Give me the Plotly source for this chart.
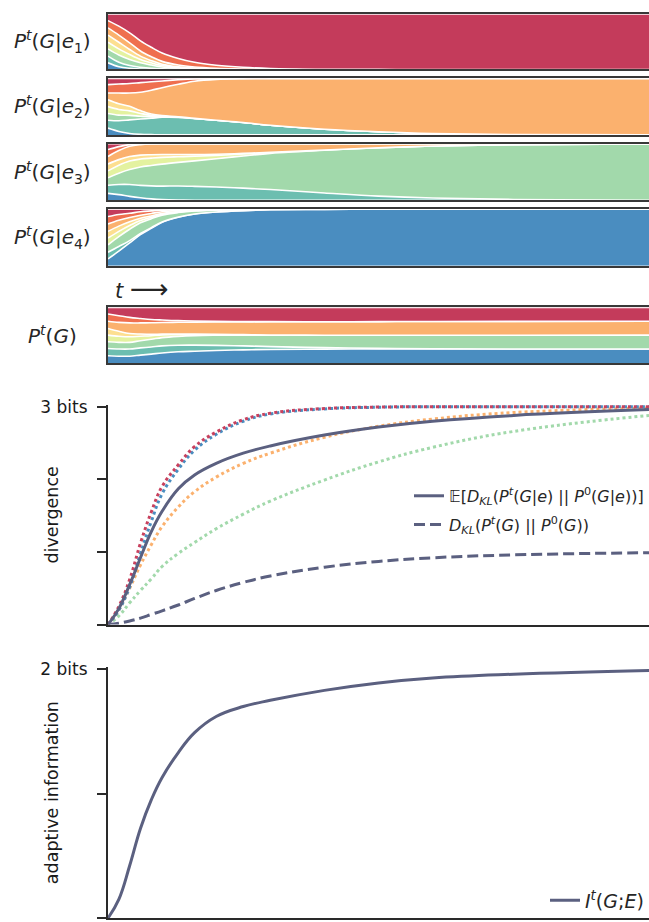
import plotly.graph_objects as go

W, H = 649, 922

# ---------------- data ----------------
T = [0, 2, 4, 6, 8, 10, 13, 16, 20, 25, 30, 40, 50, 60, 75, 100]

GENOTYPES = ["g1", "g2", "g3", "g4", "g5", "g6", "g7", "g8"]
COLORS = ["#C43B5B", "#EF6F4F", "#FBB16E", "#FDDF90",
          "#E4F2A0", "#A2D9AB", "#6CBEB0", "#4A8DC0"]

# P^t(G|e1): rows = genotypes g1..g8 (top to bottom of stack)
P_E1 = [
    [.12, .22, .34, .48, .60, .70, .80, .87, .925, .96, .98, .995, .999, 1, 1, 1],
    [.13, .16, .18, .18, .17, .15, .12, .085, .055, .03, .015, .004, .001, 0, 0, 0],
    [.13, .13, .12, .09, .07, .05, .03, .02, .01, .005, .002, 0, 0, 0, 0, 0],
    [.13, .12, .09, .06, .04, .025, .012, .006, .003, .001, 0, 0, 0, 0, 0, 0],
    [.12, .11, .09, .06, .04, .025, .012, .006, .003, .001, 0, 0, 0, 0, 0, 0],
    [.13, .13, .11, .08, .06, .035, .02, .01, .005, .002, .001, 0, 0, 0, 0, 0],
    [.12, .08, .05, .03, .015, .008, .004, .002, .001, 0, 0, 0, 0, 0, 0, 0],
    [.12, .05, .02, .008, .004, .002, .001, 0, 0, 0, 0, 0, 0, 0, 0, 0],
]
P_E2 = [
    [.11, .10, .09, .075, .06, .045, .025, .01, .003, 0, 0, 0, 0, 0, 0, 0],
    [.15, .16, .17, .17, .15, .12, .08, .04, .015, .005, .001, 0, 0, 0, 0, 0],
    [.12, .19, .235, .325, .42, .494, .573, .657, .722, .775, .829, .90, .945, .976, .995, 1],
    [.12, .10, .08, .05, .025, .01, .004, .001, 0, 0, 0, 0, 0, 0, 0, 0],
    [.12, .10, .08, .05, .025, .01, .004, .001, 0, 0, 0, 0, 0, 0, 0, 0],
    [.12, .10, .08, .05, .025, .01, .004, .001, 0, 0, 0, 0, 0, 0, 0, 0],
    [.14, .19, .24, .27, .29, .31, .31, .29, .26, .22, .17, .10, .055, .024, .005, 0],
    [.12, .06, .025, .01, .004, .001, 0, 0, 0, 0, 0, 0, 0, 0, 0, 0],
]
P_E3 = [
    [.10, .05, .015, .005, 0, 0, 0, 0, 0, 0, 0, 0, 0, 0, 0, 0],
    [.12, .07, .03, .01, .003, 0, 0, 0, 0, 0, 0, 0, 0, 0, 0, 0],
    [.13, .16, .18, .185, .19, .19, .19, .19, .185, .17, .15, .11, .07, .04, .015, .002],
    [.12, .10, .08, .07, .06, .05, .04, .03, .02, .01, .004, 0, 0, 0, 0, 0],
    [.12, .14, .15, .14, .13, .12, .10, .08, .06, .035, .015, .003, 0, 0, 0, 0],
    [.13, .20, .265, .325, .36, .39, .42, .45, .50, .57, .64, .757, .855, .92, .97, .996],
    [.14, .18, .21, .22, .23, .24, .25, .245, .235, .215, .19, .13, .075, .04, .015, .002],
    [.12, .10, .07, .045, .025, .012, .004, .001, 0, 0, 0, 0, 0, 0, 0, 0],
]
P_E4 = [
    [.13, .09, .07, .045, .03, .015, .006, .002, 0, 0, 0, 0, 0, 0, 0, 0],
    [.13, .10, .075, .06, .045, .03, .018, .01, .005, .002, 0, 0, 0, 0, 0, 0],
    [.13, .10, .075, .055, .045, .03, .018, .01, .005, .002, 0, 0, 0, 0, 0, 0],
    [.12, .09, .065, .04, .025, .015, .008, .004, .002, 0, 0, 0, 0, 0, 0, 0],
    [.12, .09, .065, .04, .025, .015, .008, .004, .002, 0, 0, 0, 0, 0, 0, 0],
    [.13, .17, .20, .19, .16, .12, .08, .055, .035, .02, .01, .003, 0, 0, 0, 0],
    [.12, .08, .04, .02, .01, .005, .002, 0, 0, 0, 0, 0, 0, 0, 0, 0],
    [.12, .25, .40, .55, .67, .77, .86, .91, .95, .972, .985, .996, 1, 1, 1, 1],
]
P_G = [
    [.12, .15, .18, .20, .22, .23, .24, .245, .248, .25, .25, .25, .25, .25, .25, .25],
    [.13, .12, .10, .08, .06, .045, .03, .02, .01, .005, .002, 0, 0, 0, 0, 0],
    [.13, .16, .19, .20, .21, .21, .21, .215, .22, .225, .23, .235, .24, .245, .25, .25],
    [.12, .09, .06, .04, .025, .015, .008, .004, .002, 0, 0, 0, 0, 0, 0, 0],
    [.12, .11, .10, .08, .065, .05, .035, .025, .015, .008, .004, .001, 0, 0, 0, 0],
    [.12, .12, .12, .13, .14, .15, .16, .17, .18, .19, .20, .215, .23, .24, .245, .25],
    [.13, .13, .13, .13, .13, .13, .12, .11, .09, .07, .05, .025, .01, .003, 0, 0],
    [.13, .12, .12, .14, .16, .18, .20, .21, .22, .23, .235, .24, .245, .248, .25, .25],
]

# divergences (bits)
DIV_E1 = [0, .25, .62, 1.12, 1.55, 1.9, 2.2, 2.45, 2.65, 2.82, 2.91, 2.975, 2.995, 3, 3, 3]
DIV_E4 = [0, .2, .52, .98, 1.42, 1.8, 2.14, 2.4, 2.62, 2.8, 2.9, 2.97, 2.993, 3, 3, 3]
DIV_E2 = [0, .2, .5, .82, 1.1, 1.35, 1.62, 1.83, 2.03, 2.22, 2.36, 2.58, 2.73, 2.83, 2.92, 2.98]
DIV_E3 = [0, .12, .3, .47, .63, .8, .98, 1.13, 1.32, 1.52, 1.7, 1.99, 2.24, 2.44, 2.66, 2.88]
DIV_MEAN = [0, .22, .55, .92, 1.28, 1.56, 1.87, 2.06, 2.22, 2.36, 2.46, 2.61, 2.72, 2.8, 2.88, 2.96]
DIV_MARG = [0, .02, .05, .09, .14, .19, .27, .36, .47, .58, .67, .79, .87, .92, .96, .99]
INFO = [0, .15, .42, .72, .95, 1.13, 1.33, 1.49, 1.62, 1.7, 1.75, 1.83, 1.89, 1.93, 1.96, 1.99]

DIV_TICKS = [0, 1, 2, 3]
DIV_TICKTEXT = ["", "", "", "3 bits"]
INFO_TICKS = [0, 1, 2]
INFO_TICKTEXT = ["", "", "2 bits"]

PANEL_LABELS = [
    "<i>P</i><sup><i>t</i></sup>(<i>G</i>|<i>e</i><sub>1</sub>)",
    "<i>P</i><sup><i>t</i></sup>(<i>G</i>|<i>e</i><sub>2</sub>)",
    "<i>P</i><sup><i>t</i></sup>(<i>G</i>|<i>e</i><sub>3</sub>)",
    "<i>P</i><sup><i>t</i></sup>(<i>G</i>|<i>e</i><sub>4</sub>)",
    "<i>P</i><sup><i>t</i></sup>(<i>G</i>)",
]
LEG_MEAN = ("\U0001D53C[<i>D</i><sub><i>KL</i></sub>(<i>P</i><sup><i>t</i></sup>(<i>G</i>|<i>e</i>) || "
            "<i>P</i><sup>0</sup>(<i>G</i>|<i>e</i>))]")
LEG_MARG = ("<i>D</i><sub><i>KL</i></sub>(<i>P</i><sup><i>t</i></sup>(<i>G</i>) || "
            "<i>P</i><sup>0</sup>(<i>G</i>))")
LEG_INFO = "<i>I</i><sup><i>t</i></sup>(<i>G</i>;<i>E</i>)"
TIME_LABEL = "<i>t</i> <span style='font-size:27px'>\u27F6</span>"

SLATE = "#5B6080"
DARK = "#2a2a2a"
MATHFONT = "DejaVu Sans"

# ---------------- layout geometry (pixels) ----------------
def dom(top, bottom):
    return [1 - bottom / H, 1 - top / H]

PANEL_PX = [(6, 62), (71, 128), (137, 194), (203, 260), (302, 358)]
DIV_PX = (400, 622)
INFO_PX = (664.5, 918)
X_DOM = [108 / W, 1.0]

fig = go.Figure()

panels = [P_E1, P_E2, P_E3, P_E4, P_G]
for i, pdata in enumerate(panels):
    ax = i + 1
    for k in reversed(range(8)):
        fig.add_trace(go.Scatter(
            x=T, y=pdata[k], name=GENOTYPES[k],
            stackgroup=f"s{ax}", groupnorm="fraction",
            mode="lines",
            line=dict(color="white", width=1.6, shape="spline", smoothing=1.0),
            fillcolor=COLORS[k],
            xaxis=f"x{ax}", yaxis=f"y{ax}",
            showlegend=False, hoverinfo="skip",
        ))

# divergence panel
for vals, col in [(DIV_E3, "#A2D9AB"), (DIV_E2, "#FBB16E"), (DIV_E4, "#4A8DC0"), (DIV_E1, "#C8415E")]:
    fig.add_trace(go.Scatter(
        x=T, y=vals, mode="lines",
        line=dict(color=col, width=3, dash="dot", shape="spline", smoothing=1.2),
        xaxis="x6", yaxis="y6", showlegend=False, hoverinfo="skip"))
fig.add_trace(go.Scatter(
    x=T, y=DIV_MEAN, mode="lines", name=LEG_MEAN,
    line=dict(color=SLATE, width=3, shape="spline", smoothing=1.2),
    xaxis="x6", yaxis="y6", legend="legend", legendgroup="a"))
fig.add_trace(go.Scatter(
    x=T, y=DIV_MARG, mode="lines", name=LEG_MARG,
    line=dict(color=SLATE, width=3, dash="11px,5px", shape="spline", smoothing=1.2),
    xaxis="x6", yaxis="y6", legend="legend", legendgroup="b"))

# adaptive information panel
fig.add_trace(go.Scatter(
    x=T, y=INFO, mode="lines", name=LEG_INFO,
    line=dict(color=SLATE, width=3, shape="spline", smoothing=1.2),
    xaxis="x7", yaxis="y7", legend="legend2"))

layout = dict(
    width=W, height=H,
    margin=dict(l=0, r=0, t=0, b=0),
    paper_bgcolor="white", plot_bgcolor="white",
    showlegend=True,
    font=dict(family=MATHFONT, color="#262626"),
)

for i, (top, bot) in enumerate(PANEL_PX):
    ax = i + 1
    layout[f"xaxis{ax}"] = dict(domain=X_DOM, range=[0, 100], anchor=f"y{ax}",
                               showline=True, mirror=True, linecolor="#383838", linewidth=2,
                               showticklabels=False, ticks="", showgrid=False, zeroline=False)
    layout[f"yaxis{ax}"] = dict(domain=dom(top, bot), range=[0, 1], anchor=f"x{ax}",
                               showline=True, mirror=False, linecolor="#383838", linewidth=2,
                               showticklabels=False, ticks="", showgrid=False, zeroline=False)

layout["xaxis6"] = dict(domain=X_DOM, range=[0, 100], anchor="y6",
                        showline=True, linecolor=DARK, linewidth=2,
                        showticklabels=False, ticks="", showgrid=False, zeroline=False)
layout["yaxis6"] = dict(domain=dom(*DIV_PX), range=[0, 3.03], anchor="x6",
                        showline=True, linecolor=DARK, linewidth=2,
                        tickvals=DIV_TICKS, ticktext=DIV_TICKTEXT, ticks="outside",
                        ticklen=9, tickwidth=2, tickcolor=DARK, ticklabelstandoff=6,
                        tickfont=dict(family="DejaVu Sans", size=17, color="#1a1a1a"),
                        showgrid=False, zeroline=False)
layout["xaxis7"] = dict(domain=X_DOM, range=[0, 100], anchor="y7",
                        showline=True, linecolor=DARK, linewidth=2,
                        showticklabels=False, ticks="", showgrid=False, zeroline=False)
layout["yaxis7"] = dict(domain=dom(*INFO_PX), range=[0, 2.02], anchor="x7",
                        showline=True, linecolor=DARK, linewidth=2,
                        tickvals=INFO_TICKS, ticktext=INFO_TICKTEXT, ticks="outside",
                        ticklen=9, tickwidth=2, tickcolor=DARK, ticklabelstandoff=6,
                        tickfont=dict(family="DejaVu Sans", size=17, color="#1a1a1a"),
                        showgrid=False, zeroline=False)

layout["legend"] = dict(x=1.0, y=1 - 475 / H, xanchor="right", yanchor="top",
                        bgcolor="rgba(0,0,0,0)", borderwidth=0,
                        font=dict(family=MATHFONT, size=16, color="#262626"),
                        traceorder="grouped", tracegroupgap=5)
layout["legend2"] = dict(x=1.0, y=1 - 881 / H, xanchor="right", yanchor="top",
                         bgcolor="rgba(0,0,0,0)", borderwidth=0,
                         font=dict(family=MATHFONT, size=19, color="#262626"))

annotations = []
for i, (top, bot) in enumerate(PANEL_PX):
    annotations.append(dict(text=PANEL_LABELS[i], x=53 / W, y=1 - (top + bot) / 2 / H,
                            xref="paper", yref="paper", xanchor="center", yanchor="middle",
                            showarrow=False, font=dict(family=MATHFONT, size=20, color="#262626")))
annotations.append(dict(text=TIME_LABEL, x=113 / W, y=1 - 283 / H,
                        xref="paper", yref="paper", xanchor="left", yanchor="middle",
                        showarrow=False, font=dict(family=MATHFONT, size=21, color="#262626")))
annotations.append(dict(text="divergence", x=52 / W, y=1 - 512 / H, textangle=-90,
                        xref="paper", yref="paper", xanchor="center", yanchor="middle",
                        showarrow=False, font=dict(family="DejaVu Sans", size=17.5, color="#1a1a1a")))
annotations.append(dict(text="adaptive information", x=52 / W, y=1 - 792 / H, textangle=-90,
                        xref="paper", yref="paper", xanchor="center", yanchor="middle",
                        showarrow=False, font=dict(family="DejaVu Sans", size=17.5, color="#1a1a1a")))
layout["annotations"] = annotations

fig.update_layout(**layout)
fig.write_html("out.html")
